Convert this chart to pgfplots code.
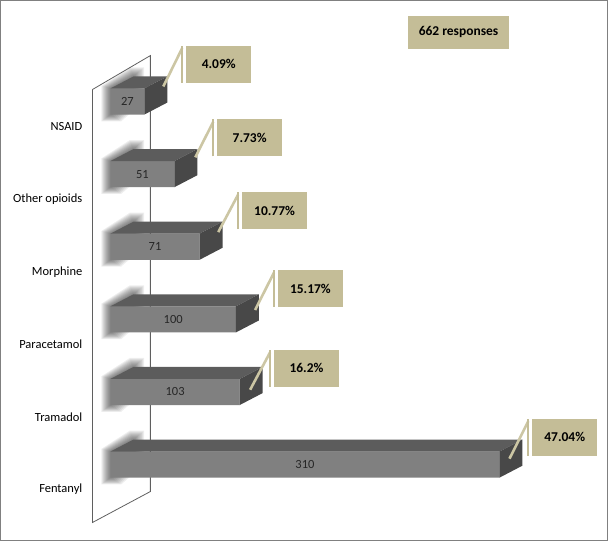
\documentclass[border=0pt]{standalone}
\usepackage{pgfplots}
\pgfplotsset{compat=1.18}
\usepackage{pgfplotstable}
\usepackage{fontspec}
\setmainfont{Carlito}
\definecolor{frontf}{RGB}{128,128,128}
\definecolor{topf}{RGB}{92,92,92}
\definecolor{sidef}{RGB}{72,72,72}
\definecolor{tanbox}{RGB}{196,189,151}
\definecolor{leader}{RGB}{204,198,164}
\definecolor{wall}{RGB}{95,95,95}

% c = category position, v = responses, pct = share, lx/ly = leader start, bx/bb = callout box left/bottom
\pgfplotstableread[col sep=comma]{
c,v,pct,lx,ly,bx,bb,name
0,310,47.04,318.0,0.082,336.2,0.124,Fentanyl
1,103,16.2,111.3,1.030,130.4,1.071,Tramadol
2,100,15.17,115.3,2.129,133.5,2.170,Paracetamol
3,71,10.77,85.9,3.201,104.9,3.242,Morphine
4,51,7.73,67.6,4.231,85.1,4.245,Other opioids
5,27,4.09,42.1,5.206,60.4,5.261,NSAID
}\bars

\newcommand\shadowlayer[1]{%
  \pgfmathsetmacro\sx{#1/1.258}\pgfmathsetmacro\sy{#1/72.8}%
  \pgfmathsetmacro\pa{-\sx}\pgfmathsetmacro\pb{\yb-0.75*\sy}%
  \pgfmathsetmacro\pc{\yt+0.3*\sy}%
  \pgfmathsetmacro\pd{18.3-0.4*\sx}\pgfmathsetmacro\pe{\yk+\sy}%
  \pgfmathsetmacro\pf{18.3+1.2*\sx}\pgfmathsetmacro\pg{1.2*\sx}%
  \edef\doit{\noexpand\addplot[fill=black, fill opacity=0.065, draw=none] coordinates {(\pa,\pb) (\pa,\pc) (\pd,\pe) (\pf,\pe) (\pf,\C) (\pg,\pb)};}\doit}

\begin{document}
\begin{tikzpicture}
\begin{axis}[
  scale only axis, width=608pt, height=541pt,
  xmin=-87.44, xmax=395.9, ymin=-1.044, ymax=6.387,
  hide axis, clip=false, no markers,
]
% back wall
\addplot[wall, line width=0.8pt] coordinates {(-14.3,5.165) (-14.3,-0.797) (31.8,-0.371) (31.8,5.632) (-14.3,5.165)};

% soft shadows
\pgfplotsforeachungrouped \i in {0,...,5}{%
  \pgfplotstablegetelem{\i}{c}\of\bars \edef\C{\pgfplotsretval}%
  \pgfmathsetmacro\yb{\C-0.18}\pgfmathsetmacro\yt{\C+0.18}\pgfmathsetmacro\yk{\C+0.345}%
  \shadowlayer{9}\shadowlayer{8}\shadowlayer{7}\shadowlayer{6}\shadowlayer{5}%
  \shadowlayer{4}\shadowlayer{3}\shadowlayer{2}\shadowlayer{1}%
}

% front faces
\addplot[xbar, bar width=0.36, fill=frontf, draw=none] table[x=v, y=c]{\bars};

% top and side faces
\pgfplotsforeachungrouped \i in {0,...,5}{%
  \pgfplotstablegetelem{\i}{c}\of\bars \edef\C{\pgfplotsretval}%
  \pgfplotstablegetelem{\i}{v}\of\bars \edef\V{\pgfplotsretval}%
  \pgfmathsetmacro\yb{\C-0.18}\pgfmathsetmacro\yt{\C+0.18}%
  \pgfmathsetmacro\yk{\C+0.345}\pgfmathsetmacro\ykb{\C-0.015}%
  \pgfmathsetmacro\xe{\V+18.3}%
  \edef\doit{%
    \noexpand\addplot[fill=topf, draw=none] coordinates {(0,\yt) (\V,\yt) (\xe,\yk) (18.3,\yk)};
    \noexpand\addplot[fill=sidef, draw=none] coordinates {(\V,\yb) (\V,\yt) (\xe,\yk) (\xe,\ykb)};
  }\doit
}

% leaders and callout bars
\pgfplotsforeachungrouped \i in {0,...,5}{%
  \pgfplotstablegetelem{\i}{lx}\of\bars \edef\LX{\pgfplotsretval}%
  \pgfplotstablegetelem{\i}{ly}\of\bars \edef\LY{\pgfplotsretval}%
  \pgfplotstablegetelem{\i}{bx}\of\bars \edef\BX{\pgfplotsretval}%
  \pgfplotstablegetelem{\i}{bb}\of\bars \edef\BB{\pgfplotsretval}%
  \pgfmathsetmacro\vx{\BX-3.2}\pgfmathsetmacro\vt{\BB+0.508}\pgfmathsetmacro\ve{\BB+0.475}%
  \edef\doit{%
    \noexpand\addplot[leader, line width=2.6pt] coordinates {(\LX,\LY) (\vx,\ve)};
    \noexpand\addplot[tanbox, line width=2pt] coordinates {(\vx,\BB) (\vx,\vt)};
  }\doit
}

% callout boxes
\addplot[draw=none, nodes near coords={\pgfplotspointmeta\%}, point meta=explicit symbolic,
  every node near coord/.append style={anchor=center, fill=tanbox, minimum width=65pt, minimum height=37pt, inner sep=0pt, text=black, font=\bfseries\fontsize{13.5}{15}\selectfont}]
  table[x expr=\thisrow{bx}+25.85, y expr=\thisrow{bb}+0.254, meta=pct]{\bars};

% values on bars
\addplot[draw=none, nodes near coords, point meta=explicit symbolic,
  every node near coord/.append style={anchor=center, inner sep=0pt, text=black!85, font=\fontsize{12.5}{14}\selectfont}]
  table[x expr=\thisrow{v}/2, y=c, meta=v]{\bars};

% category labels
\addplot[draw=none, nodes near coords, point meta=explicit symbolic,
  every node near coord/.append style={anchor=east, inner sep=0pt, text=black, font=\fontsize{12.5}{14}\selectfont}]
  table[x expr=-22.3, y expr=\thisrow{c}-0.345, meta=name]{\bars};

\node[fill=tanbox, minimum width=102pt, minimum height=33pt, inner sep=0pt, font=\bfseries\fontsize{13.5}{15}\selectfont] at (axis cs:277.4,5.955) {662 responses};

\draw[black!50, line width=1.5pt] (rel axis cs:0,0) rectangle (rel axis cs:1,1);
\end{axis}
\end{tikzpicture}
\end{document}
